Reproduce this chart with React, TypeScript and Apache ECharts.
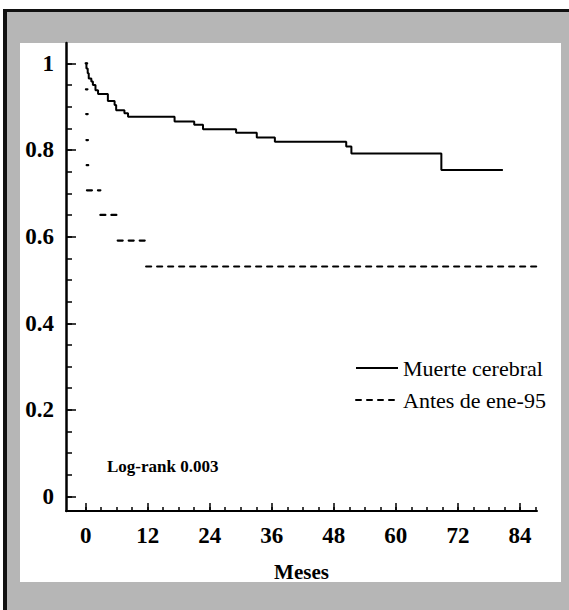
import React, { useEffect, useRef } from "react";
import * as echarts from "echarts";

// Kaplan-Meier: "Muerte cerebral" (solid) — step times (months) and survival after each step
const solidTimes = [0, 0.15, 0.4, 0.6, 1.1, 1.4, 1.9, 2.4, 4.3, 5.6, 5.9, 7.5, 8.2, 17.2, 21.0, 22.7, 29.1, 33.1, 36.6, 50.4, 51.4, 68.8];
const solidValues = [1.0, 0.988, 0.977, 0.965, 0.958, 0.95, 0.938, 0.929, 0.913, 0.904, 0.892, 0.885, 0.877, 0.866, 0.858, 0.848, 0.84, 0.829, 0.819, 0.808, 0.792, 0.754];
const solidEnd = 80.7;

// "Antes de ene-95" (dashed)
const dashedTimes = [0, 0.05, 0.1, 0.15, 0.2, 0.25, 2.85, 6.2, 11.7];
const dashedValues = [1.0, 0.94, 0.883, 0.823, 0.765, 0.707, 0.65, 0.591, 0.531];
const dashedEnd = 87.3;

const seriesNames = ["Muerte cerebral", "Antes de ene-95"];

const xLabels = [0, 12, 24, 36, 48, 60, 72, 84];
const xTicks = [0, 3, 6, 9, 12, 15, 18, 21, 24, 27, 30, 33, 36, 39, 42, 45, 48, 51, 54, 57, 60, 63, 66, 69, 72, 75, 78, 81, 84, 87];
const yLabels = [0, 0.2, 0.4, 0.6, 0.8, 1];
const yTicks = [0, 0.05, 0.1, 0.15, 0.2, 0.25, 0.3, 0.35, 0.4, 0.45, 0.5, 0.55, 0.6, 0.65, 0.7, 0.75, 0.8, 0.85, 0.9, 0.95, 1];

const X_MIN = -3.8;
const X_MAX = 87.3;
const Y_MIN = -0.0334;
const Y_MAX = 1.047;
const MIN_SEG = 0.3; // shortest drawn piece of the dashed curve (months), so tiny steps show as dots

const FONT = '"Liberation Serif", "Times New Roman", serif';

export default function App() {
  const ref = useRef<HTMLDivElement>(null);

  useEffect(() => {
    const chart = echarts.init(ref.current!, null, { renderer: "svg" });

    const solidData: (number[])[] = solidTimes.map((t, i) => [t, solidValues[i]]);
    solidData.push([solidEnd, solidValues[solidValues.length - 1]]);

    const dashedData: any[] = [];
    dashedTimes.forEach((t, i) => {
      const next = i + 1 < dashedTimes.length ? dashedTimes[i + 1] : dashedEnd;
      dashedData.push([t, dashedValues[i]]);
      dashedData.push([Math.max(next, t + MIN_SEG), dashedValues[i]]);
      if (i + 1 < dashedTimes.length) dashedData.push(null);
    });

    const axisText = { fontFamily: FONT, fontSize: 23, fontWeight: "bold" as const, color: "#000" };

    chart.setOption({
      animation: false,
      backgroundColor: "#fff",
      grid: { left: 66, right: 32, top: 43, bottom: 99, containLabel: false },
      xAxis: [
        {
          type: "value",
          min: X_MIN,
          max: X_MAX,
          position: "bottom",
          axisLine: { show: true, onZero: false, lineStyle: { color: "#000", width: 2 } },
          axisTick: { show: true, inside: true, length: 4, customValues: xTicks, lineStyle: { color: "#000", width: 1.5 } },
          axisLabel: { show: true, customValues: xLabels, margin: 13, ...axisText },
          splitLine: { show: false },
          name: "Meses",
          nameLocation: "middle",
          nameGap: 50,
          nameTextStyle: { fontFamily: FONT, fontSize: 21, fontWeight: "bold", color: "#000" },
        },
        {
          type: "value",
          min: X_MIN,
          max: X_MAX,
          position: "bottom",
          axisLine: { show: false, onZero: false },
          axisTick: { show: true, inside: true, length: 8, customValues: xLabels, lineStyle: { color: "#000", width: 1.5 } },
          axisLabel: { show: false },
          splitLine: { show: false },
        },
      ],
      yAxis: [
        {
          type: "value",
          min: Y_MIN,
          max: Y_MAX,
          position: "left",
          axisLine: { show: true, onZero: false, lineStyle: { color: "#000", width: 2.5 } },
          axisTick: { show: true, inside: true, length: 6, customValues: yTicks, lineStyle: { color: "#000", width: 1.5 } },
          axisLabel: {
            show: true,
            customValues: yLabels,
            margin: 12,
            formatter: (v: number) => String(Math.round(v * 10) / 10),
            ...axisText,
          },
          splitLine: { show: false },
        },
        {
          type: "value",
          min: Y_MIN,
          max: Y_MAX,
          position: "left",
          axisLine: { show: false, onZero: false },
          axisTick: { show: true, inside: true, length: 10, customValues: yLabels, lineStyle: { color: "#000", width: 1.5 } },
          axisLabel: { show: false },
          splitLine: { show: false },
        },
      ],
      legend: {
        orient: "vertical",
        left: 350,
        top: 352,
        itemWidth: 42,
        itemHeight: 12,
        itemGap: 10,
        data: seriesNames,
        itemStyle: { color: "rgba(0,0,0,0)", borderColor: "rgba(0,0,0,0)", borderWidth: 0, opacity: 0 },
        textStyle: { fontFamily: FONT, fontSize: 22, color: "#000" },
      },
      series: [
        {
          name: seriesNames[0],
          type: "line",
          xAxisIndex: 0,
          yAxisIndex: 0,
          step: "end",
          symbol: "none",
          data: solidData,
          lineStyle: { color: "#000", width: 2 },
          itemStyle: { color: "#000" },
        },
        {
          name: seriesNames[1],
          type: "line",
          xAxisIndex: 0,
          yAxisIndex: 0,
          symbol: "none",
          connectNulls: false,
          data: dashedData,
          lineStyle: { color: "#000", width: 2.2, type: [5, 6], cap: "round" },
          itemStyle: { color: "#000" },
        },
      ],
      graphic: [
        { type: "rect", z: -20, silent: true, shape: { x: 3, y: 10, width: 566, height: 600 }, style: { fill: "#b6b6b6" } },
        { type: "rect", z: -19, silent: true, shape: { x: 20, y: 43, width: 541, height: 539 }, style: { fill: "#fff" } },
        { type: "rect", z: -18, silent: true, shape: { x: 3, y: 9, width: 566, height: 3 }, style: { fill: "#111" } },
        { type: "rect", z: -18, silent: true, shape: { x: 3, y: 9, width: 4, height: 601 }, style: { fill: "#111" } },
        {
          type: "text",
          z: 10,
          x: 107,
          y: 466,
          style: {
            text: "Log-rank 0.003",
            font: `bold 17px ${FONT}`,
            fill: "#000",
            verticalAlign: "middle",
          },
        },
      ],
    });

    return () => chart.dispose();
  }, []);

  return <div ref={ref} style={{ position: "absolute", left: 0, top: 0, width: 569, height: 610 }} />;
}
